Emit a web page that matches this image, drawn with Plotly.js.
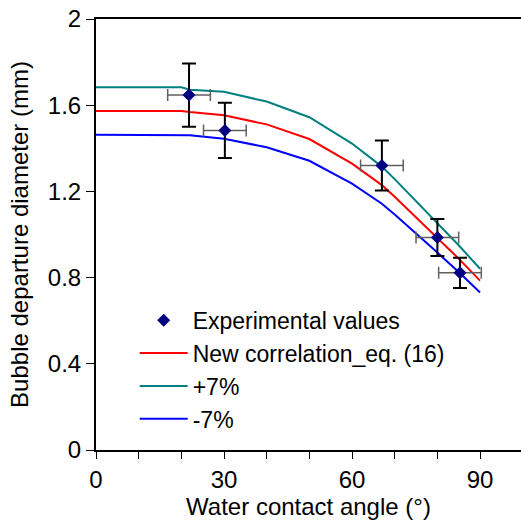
<!DOCTYPE html>
<html>
<head>
<meta charset="utf-8">
<script src="https://cdn.plot.ly/plotly-3.0.1.min.js"></script>
<style>
html, body { margin: 0; padding: 0; background: #fff; }
#chart { width: 521px; height: 526px; }
</style>
</head>
<body>
<div id="chart"></div>
<script>
// Experimental data
const expAngle = [21.8, 30.2, 67.0, 80.0, 85.3];
const expDiameter = [1.647, 1.483, 1.320, 0.986, 0.822];
const expErrDiameter = [0.147, 0.128, 0.116, 0.086, 0.070];
const expErrAngle = [5, 5, 5, 5, 5];

// Correlation curves
const curveAngle = [0, 20, 22, 30, 40, 50, 60, 67, 70, 80, 85, 90];
const corrDiameter = [1.573, 1.573, 1.568, 1.553, 1.511, 1.443, 1.329, 1.229, 1.175, 0.985, 0.888, 0.786];
const plusDiameter = [1.683, 1.683, 1.672, 1.662, 1.617, 1.544, 1.422, 1.315, 1.257, 1.054, 0.950, 0.841];
const minusDiameter = [1.463, 1.463, 1.460, 1.444, 1.405, 1.342, 1.236, 1.143, 1.093, 0.916, 0.826, 0.731];

// Axis ticks
const xTickVals = [0, 10, 20, 30, 40, 50, 60, 70, 80, 90];
const xTickText = ['0', '', '', '30', '', '', '60', '', '', '90'];
const yTickVals = [0, 0.4, 0.8, 1.2, 1.6, 2];
const yTickText = ['0', '0.4', '0.8', '1.2', '1.6', '2'];

const FONT = 'Liberation Sans, Arial, sans-serif';

const traces = [
  {
    x: curveAngle, y: corrDiameter, type: 'scatter', mode: 'lines',
    name: 'New correlation_eq. (16)', legendrank: 2,
    line: { color: '#ff0000', width: 2 }
  },
  {
    x: curveAngle, y: plusDiameter, type: 'scatter', mode: 'lines',
    name: '+7%', legendrank: 3,
    line: { color: '#008080', width: 2 }
  },
  {
    x: curveAngle, y: minusDiameter, type: 'scatter', mode: 'lines',
    name: '-7%', legendrank: 4,
    line: { color: '#0000ff', width: 2 }
  },
  {
    x: expAngle, y: expDiameter, type: 'scatter', mode: 'markers',
    name: 'Experimental values', legendrank: 1,
    marker: { symbol: 'diamond', size: 10, color: '#000080' },
    error_y: { type: 'data', array: expErrDiameter, visible: true, color: '#000000', thickness: 2, width: 7 },
    error_x: { type: 'data', array: expErrAngle, visible: true, color: '#606060', thickness: 1.5, width: 6 }
  }
];

const layout = {
  width: 521, height: 526,
  margin: { l: 96, r: 0, t: 18.5, b: 76 },
  paper_bgcolor: '#ffffff', plot_bgcolor: '#ffffff',
  font: { family: FONT, size: 24, color: '#000000' },
  showlegend: true,
  legend: {
    x: 0.091, y: 0.351, xanchor: 'left', yanchor: 'top',
    bgcolor: 'rgba(0,0,0,0)', borderwidth: 0,
    font: { family: FONT, size: 23, color: '#000000' },
    itemwidth: 48, tracegroupgap: 0
  },
  xaxis: {
    range: [0, 99.6], showgrid: false, zeroline: false,
    showline: true, linecolor: '#000000', linewidth: 2, mirror: true,
    ticks: 'outside', ticklen: 7, tickwidth: 1, tickcolor: '#000000',
    tickvals: xTickVals, ticktext: xTickText,
    tickfont: { family: FONT, size: 24, color: '#000000' },
    title: { text: 'Water contact angle (°)', font: { family: FONT, size: 24, color: '#000000' }, standoff: 6 }
  },
  yaxis: {
    range: [0, 2], showgrid: false, zeroline: false,
    showline: true, linecolor: '#000000', linewidth: 2,
    ticks: 'outside', ticklen: 8, tickwidth: 1, tickcolor: '#000000',
    ticklabelstandoff: 0,
    tickvals: yTickVals, ticktext: yTickText,
    tickfont: { family: FONT, size: 24, color: '#000000' },
    title: { text: 'Bubble departure diameter (mm)', font: { family: FONT, size: 24, color: '#000000' }, standoff: 12 }
  }
};

Plotly.newPlot('chart', traces, layout, { displayModeBar: false, staticPlot: true });
</script>
</body>
</html>
